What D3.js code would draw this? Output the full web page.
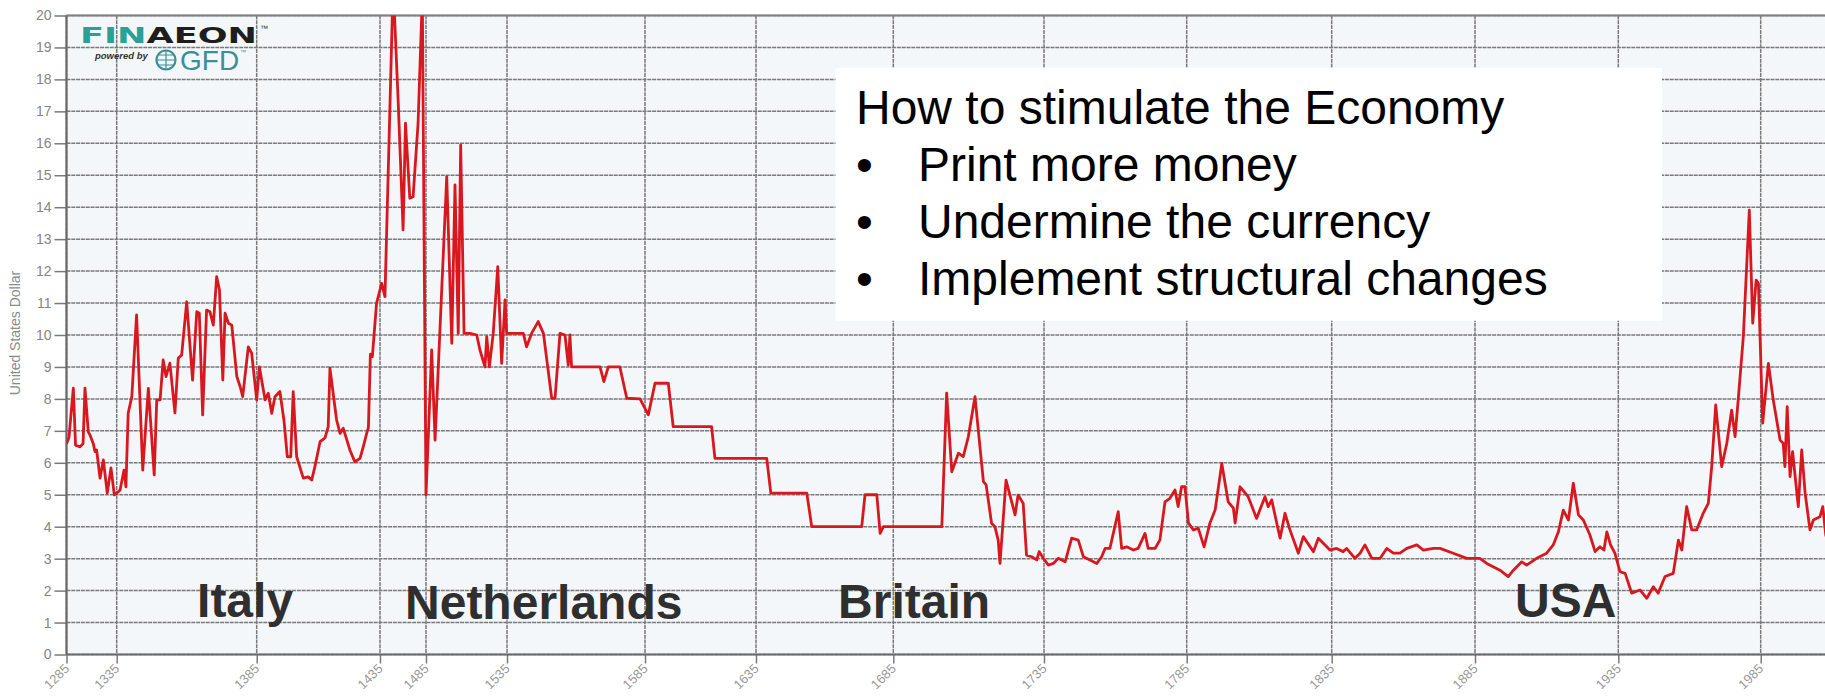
<!DOCTYPE html>
<html><head><meta charset="utf-8">
<script src="https://cdn.jsdelivr.net/npm/d3@7"></script>
<style>
body{margin:0;background:#fff;}
svg{display:block;font-family:"Liberation Sans",Arial,Helvetica,sans-serif;}
</style>
</head><body>
<svg id="chart" width="1825" height="696"></svg>
<script>
// ---------------- DATA ----------------
const years = [
1285.0,1287.5,1291.8,1294.0,1298.5,1301.5,1303.4,1306.7,1308.4,1311.7,1313.4,1315.0,1318.4,1321.7,1325.6,1329.3,1332.6,
1335.0,1336.2,1337.6,1338.3,1339.1,1340.4,1342.1,1344.3,1346.3,1348.4,1349.3,1350.5,1351.6,1352.6,1354.0,1355.8,1357.0,
1358.2,1360.0,1362.1,1363.6,1364.5,1365.7,1367.1,1368.3,1369.5,1370.7,1371.7,1372.9,1373.7,1374.9,1376.1,1377.9,1379.1,
1380.0,1382.0,1383.2,1385.0,1386.1,1387.0,1388.4,1389.7,1391.1,1392.4,1394.4,1396.1,1397.4,1398.8,1399.8,1401.2,1403.9,
1405.9,1407.3,1408.6,1410.7,1412.7,1414.0,1414.7,1417.4,1418.8,1420.1,1422.8,1424.8,1426.9,1428.2,1429.6,1430.3,1431.1,
1431.9,1433.6,1436.8,1440.4,1449.3,1454.7,1460.1,1462.7,1467.4,1471.0,1476.4,1481.0,1485.0,1488.5,1490.6,1497.8,1500.9,
1502.9,1504.9,1506.4,1508.5,1512.2,1516.3,1518.3,1521.4,1522.5,1524.1,1526.5,1529.3,1531.7,1533.8,1534.8,1540.9,1542.1,
1543.9,1546.3,1548.2,1551.2,1552.4,1554.2,1556.0,1557.2,1557.8,1558.4,1568.7,1570.1,1571.7,1575.9,1578.4,1583.2,1586.5,
1589.5,1595.5,1597.7,1615.0,1616.5,1638.9,1640.4,1653.5,1655.3,1673.5,1674.7,1679.0,1680.2,1681.4,1701.1,1702.7,1704.4,
1706.6,1708.2,1709.9,1712.1,1714.9,1715.8,1717.6,1718.7,1719.8,1720.4,1722.4,1725.4,1726.4,1728.1,1729.2,1730.9,1732.6,
1733.4,1734.8,1736.5,1738.3,1740.0,1742.4,1744.7,1747.0,1748.8,1751.1,1753.5,1755.2,1756.4,1758.1,1761.0,1762.2,1764.0,
1766.3,1768.0,1770.4,1771.5,1773.9,1775.6,1777.4,1779.1,1780.9,1782.0,1783.2,1784.4,1785.6,1787.3,1789.0,1791.0,1793.0,
1794.8,1797.1,1799.3,1801.1,1801.7,1803.4,1806.2,1809.1,1812.0,1813.1,1814.3,1817.2,1818.9,1820.6,1823.5,1825.2,1828.7,
1830.4,1834.4,1836.7,1839.0,1840.2,1843.1,1844.9,1846.6,1849.0,1851.9,1854.2,1856.5,1858.8,1861.2,1864.7,1867.0,1870.5,
1872.8,1877.4,1882.1,1886.7,1889.1,1893.7,1896.6,1898.4,1901.3,1903.0,1906.5,1910.0,1912.3,1914.1,1915.8,1917.6,1919.3,
1921.1,1922.8,1925.1,1926.9,1928.6,1930.0,1931.0,1932.3,1933.8,1935.6,1937.4,1939.7,1942.6,1945.0,1947.3,1949.0,1951.4,
1954.3,1956.1,1957.3,1959.0,1960.8,1962.5,1964.8,1966.6,1967.8,1969.2,1971.3,1973.1,1974.8,1976.0,1977.1,1978.9,1981.0,
1982.2,1983.4,1984.2,1985.7,1987.7,1989.4,1991.8,1992.9,1993.5,1994.3,1995.3,1996.2,1998.2,1999.4,2000.6,2002.3,2003.5,
2005.8,2006.8,2007.9
];
const values = [
6.60,6.80,8.34,6.55,6.50,6.60,8.34,6.97,6.87,6.60,6.35,6.40,5.52,6.09,5.05,5.84,5.00,
5.05,5.15,5.77,5.25,7.55,8.07,10.63,5.77,8.33,5.62,7.97,7.97,9.22,8.70,9.12,7.56,9.28,
9.37,11.04,8.59,10.73,10.68,7.50,10.78,10.73,10.31,11.83,11.41,8.59,10.68,10.37,10.31,8.70,8.38,
8.07,9.63,9.43,7.97,9.00,8.59,7.97,8.18,7.55,8.07,8.23,7.30,6.19,6.19,8.23,6.19,5.52,
5.56,5.46,5.88,6.66,6.78,7.13,8.96,7.34,6.92,7.08,6.40,6.03,6.14,6.50,6.92,7.10,9.40,
9.32,10.99,11.62,11.20,21.0,17.36,13.29,16.63,14.28,14.33,16.63,20.6,5.00,9.53,6.71,14.96,9.74,
14.70,10.05,15.95,10.05,10.05,10.00,9.53,9.00,9.95,9.00,10.05,12.14,9.11,11.10,10.05,10.05,9.63,
10.05,10.42,10.05,8.02,8.02,10.05,10.00,9.06,10.00,9.00,9.00,8.54,9.00,9.00,8.02,8.00,7.50,
8.49,8.49,7.13,7.13,6.14,6.14,5.05,5.05,4.00,4.00,5.00,5.00,3.79,4.00,4.00,8.18,5.72,
6.30,6.19,6.82,8.07,5.41,5.31,4.11,4.00,3.58,2.85,5.46,4.37,4.99,4.73,3.11,3.06,2.96,
3.22,3.01,2.80,2.85,3.01,2.90,3.64,3.58,3.06,2.96,2.85,3.06,3.32,3.32,4.47,3.32,3.37,
3.27,3.32,3.79,3.32,3.32,3.58,4.78,4.89,5.15,4.63,5.25,5.25,4.11,3.90,3.95,3.37,4.11,
4.52,5.98,4.78,4.58,4.11,5.25,4.94,4.26,4.94,4.63,4.84,3.64,4.42,3.90,3.17,3.69,3.22,
3.64,3.27,3.32,3.22,3.32,3.01,3.17,3.43,3.01,3.01,3.32,3.17,3.17,3.32,3.43,3.27,3.32,
3.32,3.17,3.01,3.01,2.85,2.64,2.44,2.64,2.90,2.80,3.01,3.17,3.43,3.84,4.52,4.21,5.36,
4.37,4.21,3.74,3.22,3.37,3.27,3.84,3.43,3.17,2.59,2.54,1.92,2.02,1.76,2.12,1.92,2.44,
2.54,3.58,3.27,4.63,3.90,3.90,4.42,4.73,5.88,7.81,5.88,6.61,7.65,6.82,7.97,9.95,13.91,
10.37,11.72,11.62,7.24,9.11,7.97,6.71,6.61,5.88,7.76,5.57,6.35,4.63,6.40,5.05,3.90,4.21,
4.31,4.63,3.70
];
const tickYears = [1285,1335,1385,1435,1485,1535,1585,1635,1685,1735,1785,1835,1885,1935,1985];
const yTicks = d3.range(0, 21);
const yTitle = "United States Dollar";
const countries = ["Italy", "Netherlands", "Britain", "USA"];
const noteTitle = "How to stimulate the Economy";
const noteBullets = ["Print more money", "Undermine the currency", "Implement structural changes"];

// ---------------- LAYOUT ----------------
const L = 66.5, T = 15.5, B = 654.5, R = 1835;
// the source chart spaces its 50-year labels unevenly; polylinear scale reproduces that
const xBreaks = [0, 50.2, 190.2, 313.5, 359.5, 440.5, 578.5, 689.5, 826.8, 977.5, 1120.2, 1265.2, 1408.5, 1551.8, 1694.2];
const x = d3.scaleLinear().domain(tickYears).range(xBreaks.map(d => L + d));
const y = d3.scaleLinear().domain([0, 20]).range([B, T]);

const svg = d3.select("#chart");
svg.append("rect").attr("width", 1825).attr("height", 696).attr("fill", "#fff");
svg.append("rect").attr("x", L).attr("y", T).attr("width", R - L).attr("height", B - T).attr("fill", "#f3f7f9");

svg.append("defs").append("clipPath").attr("id", "plotclip")
  .append("rect").attr("x", L).attr("y", T).attr("width", R - L).attr("height", B - T);

const gridColor = "#7a7a7a";
// horizontal grid + y ticks
const gy = svg.append("g").attr("transform", `translate(${L},0)`)
  .call(d3.axisLeft(y).tickValues(yTicks).tickSize(12).tickPadding(3).tickSizeOuter(0));
gy.select(".domain").remove();
gy.selectAll(".tick line").attr("stroke", gridColor).attr("stroke-width", 1.5);
gy.selectAll(".tick text").attr("fill", "#858585").attr("font-size", 14).attr("font-family", "Liberation Sans, Arial, sans-serif");
svg.append("g").selectAll("line").data(yTicks).join("line")
  .attr("x1", L).attr("x2", R).attr("y1", d => y(d)).attr("y2", d => y(d))
  .attr("stroke", gridColor).attr("stroke-width", 1.5).attr("stroke-dasharray", "4,0.8");

// vertical grid + x ticks
const gx = svg.append("g").attr("transform", `translate(0,${B})`)
  .call(d3.axisBottom(x).tickValues(tickYears).tickSize(9).tickFormat(d3.format("d")).tickSizeOuter(0));
gx.select(".domain").remove();
gx.selectAll(".tick line").attr("stroke", gridColor).attr("stroke-width", 1.5);
gx.selectAll(".tick text")
  .attr("fill", "#999").attr("font-size", 13).attr("text-anchor", "end")
  .attr("dy", 0).attr("y", 0)
  .attr("transform", "translate(3,15) rotate(-45)");
svg.append("g").selectAll("line").data(tickYears).join("line")
  .attr("x1", d => x(d)).attr("x2", d => x(d)).attr("y1", T).attr("y2", B)
  .attr("stroke", gridColor).attr("stroke-width", 1.5).attr("stroke-dasharray", "4,0.8");

// frame
svg.append("line").attr("x1", L).attr("x2", R).attr("y1", T).attr("y2", T).attr("stroke", "#808080").attr("stroke-width", 1.8);
svg.append("line").attr("x1", L).attr("x2", L).attr("y1", T).attr("y2", B).attr("stroke", "#6a6a6a").attr("stroke-width", 2.2);
svg.append("line").attr("x1", L).attr("x2", R).attr("y1", B).attr("y2", B).attr("stroke", "#6a6a6a").attr("stroke-width", 2.2);

// y title
svg.append("text").attr("transform", "translate(20,333) rotate(-90)")
  .attr("text-anchor", "middle").attr("font-size", 14).attr("fill", "#8a8a8a").text(yTitle);

// series line
const series = years.map((yr, i) => ({ yr, v: values[i] }));
svg.append("path").datum(series)
  .attr("clip-path", "url(#plotclip)")
  .attr("fill", "none").attr("stroke", "#d8181e").attr("stroke-width", 2.8)
  .attr("stroke-linejoin", "round")
  .attr("d", d3.line().x(d => x(d.yr)).y(d => y(d.v)));

// country labels (anchored in data space)
const countryAnchor = [[1363.7, 1.17], [1462.2, 1.12], [1664.9, 1.15], [1899.0, 1.17]];
svg.append("g").selectAll("text").data(countries).join("text")
  .attr("x", (d, i) => x(countryAnchor[i][0])).attr("y", (d, i) => y(countryAnchor[i][1]))
  .attr("font-size", 48).attr("font-weight", "bold").attr("fill", "#2f2f2f").text(d => d);

// annotation box
svg.append("rect").attr("x", 835.5).attr("y", 67.7).attr("width", 826.5).attr("height", 253).attr("fill", "#fff");
svg.append("text").attr("x", 856).attr("y", 123.5).attr("font-size", 48).attr("fill", "#000").text(noteTitle);
const nb = svg.append("g").selectAll("g").data(noteBullets).join("g");
nb.append("text").attr("x", 856).attr("y", (d, i) => 180.5 + i * 57).attr("font-size", 48).attr("fill", "#000").text("\u2022");
nb.append("text").attr("x", 918).attr("y", (d, i) => 180.5 + i * 57).attr("font-size", 48).attr("fill", "#000").text(d => d);

// logo
const logo = svg.append("g");
const lt = logo.append("text").attr("x", 80).attr("y", 43).attr("font-size", 22).attr("font-weight", "bold")
  .attr("font-family", "DejaVu Sans, sans-serif").attr("textLength", 177).attr("lengthAdjust", "spacingAndGlyphs");
lt.append("tspan").attr("fill", "#2aa196").text("FIN");
lt.append("tspan").attr("fill", "#1e1e1e").text("AEON");
logo.append("text").attr("x", 260).attr("y", 31).attr("font-size", 8).attr("fill", "#333").text("\u2122");
logo.append("text").attr("x", 95).attr("y", 59).attr("font-size", 9.5).attr("font-style", "italic").attr("font-weight", "bold").attr("fill", "#333").text("powered by");
logo.append("circle").attr("cx", 166).attr("cy", 60).attr("r", 9.5).attr("fill", "none").attr("stroke", "#3d8f97").attr("stroke-width", 2.2);
logo.append("path").attr("d", "M157,60 H175 M166,51 V69 M159,55 H173 M159,65 H173").attr("stroke", "#3d8f97").attr("stroke-width", 1.2).attr("fill", "none");
logo.append("text").attr("x", 180).attr("y", 70).attr("font-size", 28).attr("fill", "#3d8f97").text("GFD");
logo.append("text").attr("x", 240).attr("y", 54).attr("font-size", 6).attr("fill", "#3d8f97").text("\u2122");
</script>
</body></html>
